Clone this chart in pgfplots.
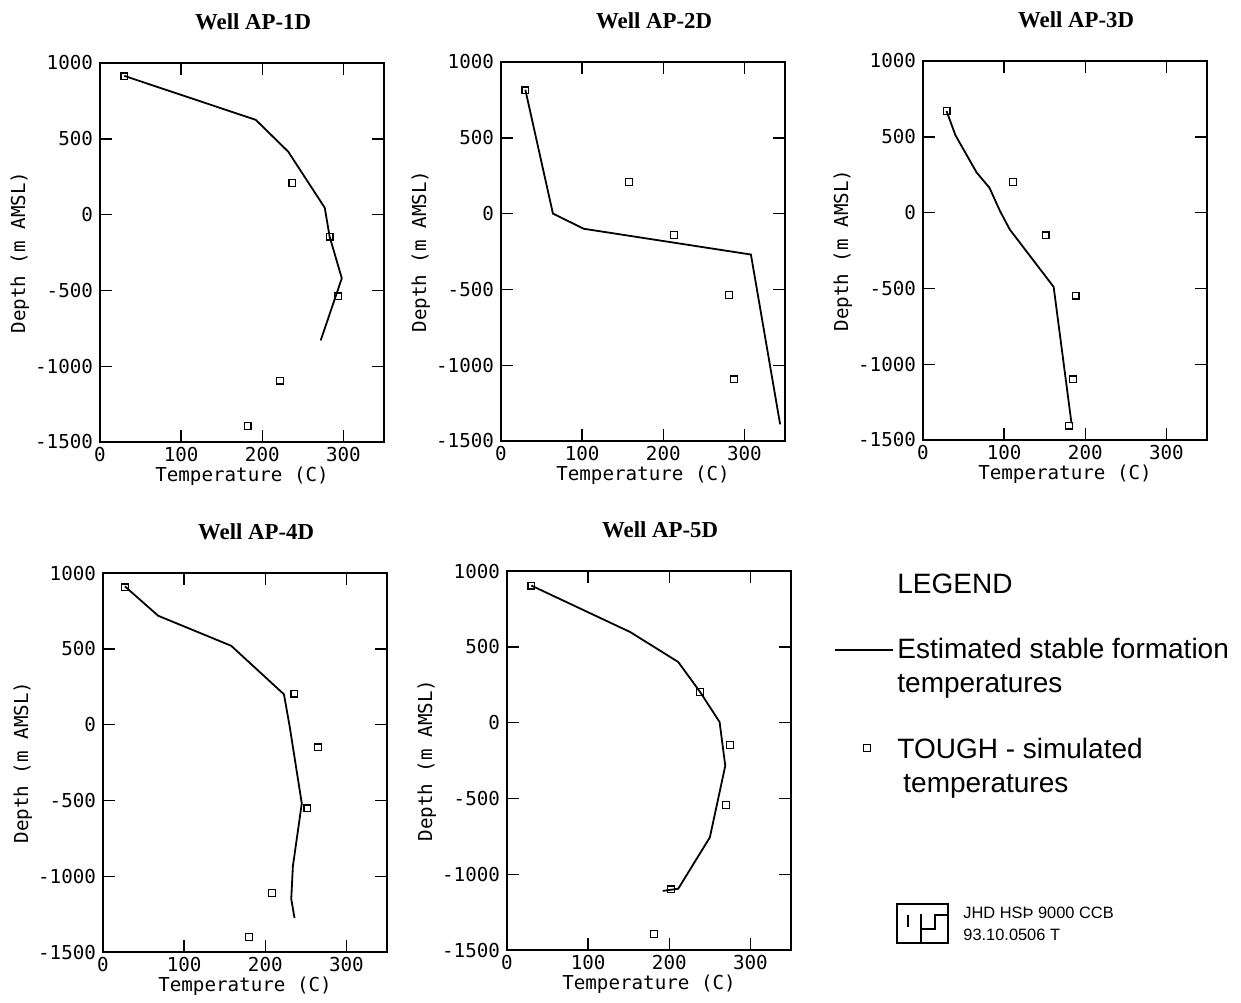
\documentclass[border=0pt]{standalone}
\usepackage{fontspec}
\setmainfont{Liberation Serif}
\newfontfamily\plotfont{DejaVu Sans Mono}
\newfontfamily\helv{Liberation Sans}
\usepackage{pgfplots}
\pgfplotsset{compat=1.18}

% 1 px of the reference = 0.5pt
\pgfplotsset{
  wellaxis/.style={
    scale only axis, width=142pt, height=189.5pt,
    anchor=north west, clip=false,
    xmin=0, xmax=350, ymin=-1500, ymax=1000,
    xtick={0,100,200,300}, xticklabels={0,100,200,300},
    ytick={-1500,-1000,-500,0,500,1000},
    yticklabels={-1500,-1000,-500,0,500,1000},
    tick align=inside, major tick length=6pt,
    tick style={black, line width=0.7pt},
    axis line style={line width=0.9pt},
    ticklabel style={font=\plotfont\fontsize{9.6}{10}\selectfont},
    xticklabel style={yshift=0.8pt},
    xlabel={Temperature (C)}, ylabel={Depth (m AMSL)},
    label style={font=\plotfont\fontsize{9.6}{10}\selectfont},
    xlabel style={at={(axis description cs:0.5,-0.104)}, anchor=base},
    ylabel style={at={(axis description cs:-0.282,0.5)}, anchor=center},
  },
  est/.style={black, line width=0.9pt, mark=none},
  sim/.style={only marks, mark=square, mark size=1.7pt,
    mark options={black, line width=0.6pt, solid}},
}
\newcommand{\welltitle}[1]{%
  \node[anchor=base, font=\bfseries\fontsize{11.4}{13}\selectfont, yshift=17pt]
    at (rel axis cs:0.539,1) {#1};}

\begin{document}
\begin{tikzpicture}
\useasboundingbox (0,0) rectangle (620.5pt,-501pt);

% Well AP-1D
\begin{axis}[wellaxis, at={(50pt,-31.5pt)}]
\addplot[est] coordinates {(30,915) (192,625) (232,415) (277,45) (283,-145) (298,-420) (272,-830)};
\addplot[sim] coordinates {(30,912) (237,207) (283,-145) (293,-540) (222,-1095) (182,-1395)};
\welltitle{Well AP-1D}
\end{axis}

% Well AP-2D
\begin{axis}[wellaxis, at={(250.5pt,-31pt)}]
\addplot[est] coordinates {(30,817) (64,0) (102,-100) (308,-270) (344,-1390)};
\addplot[sim] coordinates {(30,813) (158,207) (213,-140) (281,-535) (287,-1093)};
\welltitle{Well AP-2D}
\end{axis}

% Well AP-3D
\begin{axis}[wellaxis, at={(461.5pt,-30.5pt)}]
\addplot[est] coordinates {(29,670) (40,510) (66,265) (82,163) (95,9) (107,-112) (161,-490) (183,-1390)};
\addplot[sim] coordinates {(29,670) (111,200) (151,-150) (188,-548) (185,-1100) (180,-1405)};
\welltitle{Well AP-3D}
\end{axis}

% Well AP-4D
\begin{axis}[wellaxis, at={(51.5pt,-286.5pt)}]
\addplot[est] coordinates {(27,912) (68,718) (158,520) (223,200) (230,-10) (245,-520) (234,-935) (232,-1150) (236,-1275)};
\addplot[sim] coordinates {(27,905) (236,205) (265,-150) (252,-553) (208,-1110) (180,-1400)};
\welltitle{Well AP-4D}
\end{axis}

% Well AP-5D
\begin{axis}[wellaxis, at={(253.5pt,-285.5pt)}]
\addplot[est] coordinates {(30,904) (152,597) (211,400) (238,202) (262,4) (269,-285) (250,-757) (211,-1096) (192,-1110)};
\addplot[sim] coordinates {(30,904) (238,202) (275,-147) (270,-544) (202,-1100) (181,-1393)};
\welltitle{Well AP-5D}
\end{axis}

% legend panel, in reference pixel units
\begin{axis}[at={(415pt,-270pt)}, anchor=north west, scale only axis,
  width=205.5pt, height=231pt, xmin=830, xmax=1241, ymin=540, ymax=1002,
  y dir=reverse, hide axis, clip=false]
\addplot[est] coordinates {(835,650) (893,650)};
\addplot[sim] coordinates {(867,748)};
\begin{scope}[every node/.style={anchor=base west, inner sep=0pt,
    font=\helv\fontsize{14}{17}\selectfont}]
\node at (axis cs:897,593) {LEGEND};
\node at (axis cs:897,658) {Estimated stable formation};
\node at (axis cs:897,692) {temperatures};
\node at (axis cs:897,758) {TOUGH - simulated};
\node at (axis cs:903,792) {temperatures};
\end{scope}
\draw[line width=0.8pt] (axis cs:897,904) rectangle (axis cs:948,943);
\draw[line width=0.8pt] (axis cs:921,914) -- (axis cs:921,943);
\draw[line width=0.8pt] (axis cs:948,915) -- (axis cs:935,915) -- (axis cs:935,929) -- (axis cs:921,929);
\draw[line width=0.8pt] (axis cs:908,915) -- (axis cs:908,927);
\begin{scope}[every node/.style={anchor=base west, inner sep=0pt,
    font=\helv\fontsize{8.2}{10}\selectfont}]
\node at (axis cs:963,918) {JHD HSÞ 9000 CCB};
\node at (axis cs:963,940) {93.10.0506 T};
\end{scope}
\end{axis}
\end{tikzpicture}
\end{document}
